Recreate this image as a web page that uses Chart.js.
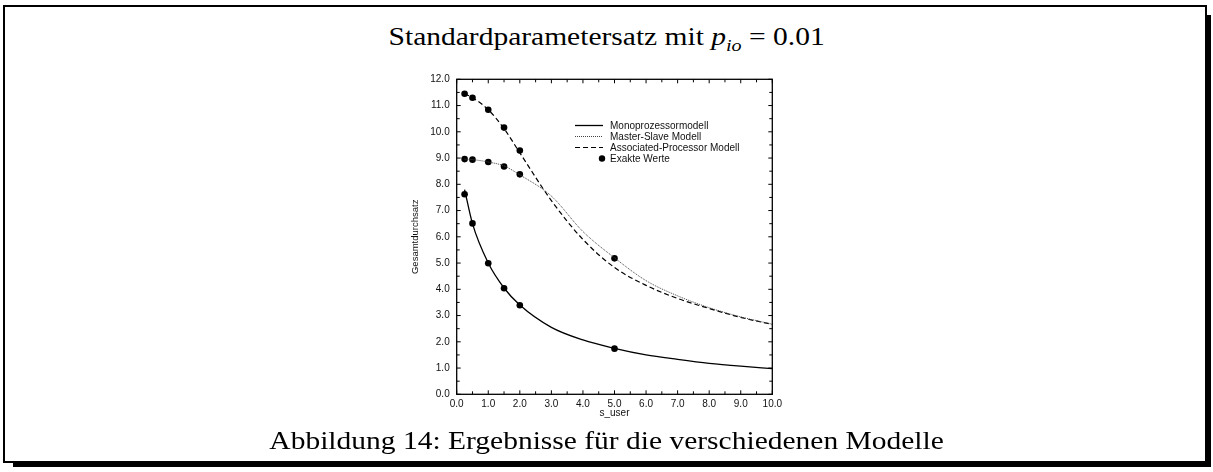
<!DOCTYPE html>
<html>
<head>
<meta charset="utf-8">
<script src="https://cdn.jsdelivr.net/npm/chart.js@4.4.1/dist/chart.umd.min.js"></script>
<style>
  html, body { margin: 0; padding: 0; background: #fff; }
  body { width: 1213px; height: 472px; position: relative; overflow: hidden; }
  #frame {
    position: absolute; left: 3px; top: 5px; width: 1200px; height: 454px;
    border: 2px solid #000; background: #fff;
  }
  #shadowR { position: absolute; left: 1207px; top: 15px; width: 4px; height: 452px; background: #000; }
  #shadowB { position: absolute; left: 13px; top: 463px; width: 1198px; height: 4px; background: #000; }
  .tex {
    position: absolute; left: 0; width: 1213px; text-align: center;
    font-family: "Liberation Serif", "DejaVu Serif", serif; color: #000;
    transform: scaleX(1.18); transform-origin: 606px 0;
  }
  #title { top: 23px; font-size: 25px; }
  #caption { top: 427px; font-size: 25px; }
  #chart { position: absolute; left: 380px; top: 60px; }
</style>
</head>
<body>
<div id="frame"></div>
<div id="shadowR"></div>
<div id="shadowB"></div>
<div id="title" class="tex">Standardparametersatz mit <i>p</i><sub style="font-size:17px"><i>io</i></sub> = 0.01</div>
<canvas id="chart" width="420" height="380"></canvas>
<div id="caption" class="tex">Abbildung 14: Ergebnisse für die verschiedenen Modelle</div>

<script>
// --- Data
const xLine = [0.25, 0.5, 1, 1.5, 2, 3, 4, 5, 6, 7, 8, 9, 10];
const mono  = [7.8, 6.5, 5.0, 4.05, 3.4, 2.55, 2.07, 1.75, 1.5, 1.33, 1.18, 1.07, 0.98];
const ms    = [8.96, 8.94, 8.85, 8.7, 8.36, 7.55, 6.2, 5.2, 4.33, 3.75, 3.3, 2.95, 2.67];
const ap    = [11.45, 11.3, 10.84, 10.12, 9.2, 7.38, 5.9, 4.83, 4.15, 3.65, 3.27, 2.93, 2.66];

const exactX    = [0.25, 0.5, 1, 1.5, 2, 5];
const exactMono = [7.62, 6.51, 4.99, 4.04, 3.39, 1.74];
const exactMS   = [8.96, 8.94, 8.85, 8.68, 8.38, 5.18];
const exactAP   = [11.45, 11.3, 10.84, 10.16, 9.29];

const yTicks = [0, 12, 1];
const xTicks = [0, 10, 1];

const labels = ["Monoprozessormodell", "Master-Slave Modell", "Associated-Processor Modell", "Exakte Werte"];

// --- Helpers
const toXY = (xs, ys) => ys.map((y, i) => ({ x: xs[i], y }));
const exactPts = [].concat(toXY(exactX, exactMono), toXY(exactX, exactMS), toXY(exactX, exactAP));

const FONT = "Liberation Sans, Arial, sans-serif";

// axis frame with inward ticks + legend inside the plot
const framePlugin = {
  id: "frame",
  afterDraw(chart){
    const { ctx, chartArea: a, scales: { x, y } } = chart;
    ctx.save();
    ctx.strokeStyle = "#000";
    ctx.lineWidth = 1.3;
    ctx.strokeRect(a.left, a.top, a.right - a.left, a.bottom - a.top);
    ctx.lineWidth = 1;
    ctx.beginPath();
    for (let v = yTicks[0]; v <= yTicks[1] + 1e-9; v += 0.5){
      const p = y.getPixelForValue(v);
      const L = Number.isInteger(v) ? 4 : 3;
      ctx.moveTo(a.left, p); ctx.lineTo(a.left + L, p);
      ctx.moveTo(a.right, p); ctx.lineTo(a.right - L, p);
    }
    for (let v = xTicks[0]; v <= xTicks[1] + 1e-9; v += 0.5){
      const p = x.getPixelForValue(v);
      const L = Number.isInteger(v) ? 4 : 3;
      ctx.moveTo(p, a.bottom); ctx.lineTo(p, a.bottom - L);
      ctx.moveTo(p, a.top); ctx.lineTo(p, a.top + L);
    }
    ctx.stroke();

    // legend
    const lx0 = 575 - 380, lx1 = 603 - 380, tx = 610 - 380;
    const rows = [125.5, 136.5, 147.5, 158.5].map(v => v - 60);
    ctx.font = "10px " + FONT;
    ctx.textBaseline = "middle";
    chart.data.datasets.forEach((ds, i) => {
      const ry = rows[i];
      if (ds.showLine === false){
        ctx.beginPath();
        ctx.arc(lx1 - 1, ry, 3.2, 0, Math.PI * 2);
        ctx.fillStyle = "#000";
        ctx.fill();
      } else {
        ctx.beginPath();
        ctx.setLineDash(ds.borderDash || []);
        ctx.strokeStyle = ds.borderColor;
        ctx.lineWidth = ds.borderWidth;
        ctx.moveTo(lx0, ry); ctx.lineTo(lx1, ry);
        ctx.stroke();
        ctx.setLineDash([]);
      }
      ctx.fillStyle = "#111";
      ctx.fillText(ds.label, tx, ry + 0.5);
    });
    ctx.restore();
  }
};

new Chart(document.getElementById("chart"), {
  type: "scatter",
  data: {
    datasets: [
      { label: labels[0], data: toXY(xLine, mono), showLine: true, borderColor: "#000", borderWidth: 1.3, pointRadius: 0, cubicInterpolationMode: "monotone" },
      { label: labels[1], data: toXY(xLine, ms), showLine: true, borderColor: "#444", borderWidth: 1, borderDash: [1, 1], pointRadius: 0, cubicInterpolationMode: "monotone" },
      { label: labels[2], data: toXY(xLine, ap), showLine: true, borderColor: "#000", borderWidth: 1.2, borderDash: [5, 3], pointRadius: 0, cubicInterpolationMode: "monotone" },
      { label: labels[3], data: exactPts, showLine: false, pointRadius: 3.3, pointBackgroundColor: "#000", pointBorderWidth: 0 }
    ]
  },
  options: {
    responsive: false,
    devicePixelRatio: 1,
    animation: false,
    layout: { padding: { left: 0, top: 19.3, right: 27.7, bottom: 15.7 } },
    plugins: { legend: { display: false }, tooltip: { enabled: false } },
    scales: {
      x: {
        type: "linear", min: xTicks[0], max: xTicks[1],
        grid: { display: false, drawTicks: false },
        border: { display: false },
        ticks: { stepSize: xTicks[2], padding: 4, color: "#111", font: { family: FONT, size: 10 }, callback: v => v.toFixed(1) },
        title: { display: true, text: "s_user", color: "#111", font: { family: FONT, size: 10 }, padding: { top: 0, bottom: 5 } },
        afterFit: s => { s.height = 30; }
      },
      y: {
        type: "linear", min: yTicks[0], max: yTicks[1],
        grid: { display: false, drawTicks: false },
        border: { display: false },
        ticks: { stepSize: yTicks[2], padding: 7, color: "#111", font: { family: FONT, size: 10 }, callback: v => v.toFixed(1) },
        title: { display: true, text: "Gesamtdurchsatz", color: "#111", font: { family: FONT, size: 9.5 }, padding: { top: 29.5, bottom: 0 } },
        afterFit: s => { s.width = 76.7; }
      }
    }
  },
  plugins: [framePlugin]
});
</script>
</body>
</html>
